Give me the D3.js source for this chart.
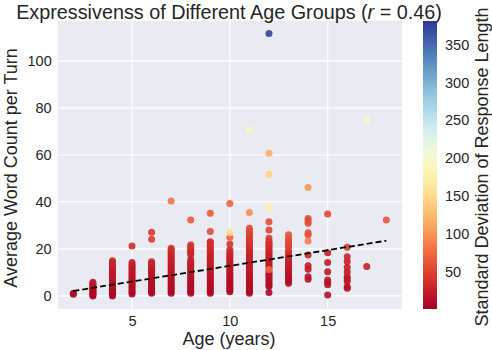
<!DOCTYPE html>
<html>
<head>
<meta charset="utf-8">
<script src="https://cdn.jsdelivr.net/npm/d3@7"></script>
<style>
body { margin: 0; background: #fff; }
text { font-family: "Liberation Sans", Arial, sans-serif; fill: #262626; }
</style>
</head>
<body>
<div id="chart"></div>
<script>
// ages on the x axis, one column of points per age
var ages = [2, 3, 4, 5, 6, 7, 8, 9, 10, 11, 12, 13, 14, 15, 16, 17, 18];

// average word count per turn, per age
var wordCounts = [
  [0.7, 1.1],
  [0.0, 0.5, 1.0, 1.5, 2.0, 2.5, 3.0, 3.5, 4.0, 4.6, 5.2, 5.8],
  [0.0, 0.7, 1.4, 2.1, 2.8, 3.5, 4.2, 5.0, 5.8, 6.6, 7.4, 8.2, 9.0, 9.8, 10.6, 11.5, 12.4, 13.3, 14.2, 15.0],
  [0.8, 1.5, 2.2, 3.0, 3.8, 4.6, 5.4, 6.2, 7.0, 7.8, 8.6, 9.4, 10.2, 11.0, 11.8, 12.6, 13.4, 14.2, 21.3],
  [1.1, 1.8, 2.5, 3.3, 4.1, 4.9, 5.7, 6.5, 7.3, 8.1, 8.9, 9.7, 10.5, 11.3, 12.1, 12.9, 13.7, 14.5, 24.1, 27.1],
  [1.1, 1.9, 2.7, 3.5, 4.3, 5.1, 5.9, 6.7, 7.5, 8.3, 9.1, 9.9, 10.7, 11.5, 12.3, 13.1, 13.9, 14.7, 15.5, 16.3, 17.1, 17.9, 18.7, 19.5, 20.3, 40.4],
  [1.1, 1.9, 2.7, 3.5, 4.3, 5.1, 5.9, 6.7, 7.5, 8.3, 9.1, 9.9, 10.7, 11.5, 12.3, 13.1, 13.9, 14.7, 15.5, 17.6, 18.4, 19.2, 20.0, 20.8, 21.7, 32.3],
  [1.1, 1.9, 2.7, 3.5, 4.3, 5.1, 5.9, 6.7, 7.5, 8.3, 9.1, 9.9, 10.7, 11.5, 12.3, 13.1, 13.9, 14.7, 15.5, 16.3, 17.1, 17.9, 18.7, 19.5, 20.3, 21.1, 21.9, 22.7, 23.1, 27.4, 35.2],
  [1.8, 2.6, 3.4, 4.2, 5.0, 5.8, 6.6, 7.4, 8.2, 9.0, 9.8, 10.6, 11.4, 12.2, 13.0, 13.8, 14.6, 15.4, 16.2, 17.0, 17.8, 18.6, 19.6, 22.1, 25.0, 26.9, 39.4],
  [1.1, 1.9, 2.7, 3.5, 4.3, 5.1, 5.9, 6.7, 7.5, 8.3, 9.1, 9.9, 10.7, 11.5, 12.3, 13.1, 13.9, 14.7, 15.5, 16.3, 17.1, 17.9, 18.7, 19.5, 20.3, 21.1, 21.9, 22.7, 23.5, 24.3, 25.1, 25.9, 26.7, 27.5, 28.8, 35.5, 70.8],
  [1.4, 4.0, 4.8, 5.6, 6.4, 7.2, 8.0, 8.8, 9.6, 10.4, 11.2, 12.0, 12.8, 13.6, 14.4, 15.2, 16.0, 16.8, 17.6, 18.4, 19.2, 20.0, 20.8, 21.6, 22.4, 23.2, 24.5, 28.1, 31.6, 37.6, 51.8, 60.7, 111.8],
  [5.4, 6.2, 7.0, 7.8, 8.6, 9.4, 10.2, 11.0, 11.8, 12.6, 13.4, 14.2, 15.0, 15.8, 16.6, 17.4, 18.2, 19.0, 20.6, 21.4, 22.2, 23.0, 23.8, 24.6, 26.0],
  [7.1, 8.2, 11.3, 12.8, 17.4, 23.4, 26.0, 26.9, 30.9, 32.0, 33.0, 46.2],
  [0.4, 4.7, 5.8, 6.8, 10.3, 14.2, 18.4, 34.9],
  [3.3, 3.9, 6.1, 7.2, 8.2, 10.2, 12.2, 14.6, 16.7, 20.7],
  [12.5, 74.9],
  [32.3]
];

// standard deviation of response length, same layout as wordCounts
var responseSD = [
  [8, 10],
  [4, 5, 6, 7, 8, 9, 10, 11, 12, 14, 16, 18],
  [5, 6, 7, 8, 9, 10, 11, 12, 13, 14, 15, 16, 17, 18, 19, 20, 22, 24, 26, 28],
  [6, 7, 8, 9, 10, 11, 12, 13, 14, 15, 16, 17, 18, 19, 20, 22, 24, 26, 35],
  [6, 7, 8, 9, 10, 11, 12, 13, 14, 15, 16, 17, 18, 19, 21, 23, 25, 27, 45, 42],
  [6, 7, 8, 9, 10, 11, 12, 13, 14, 15, 16, 17, 18, 19, 20, 21, 22, 23, 24, 25, 27, 29, 31, 33, 36, 80],
  [6, 7, 8, 9, 10, 11, 12, 13, 14, 15, 16, 17, 18, 19, 20, 21, 22, 23, 24, 27, 29, 31, 33, 35, 38, 65],
  [6, 7, 8, 9, 10, 11, 12, 13, 14, 15, 16, 17, 18, 19, 20, 21, 22, 23, 24, 25, 26, 27, 28, 30, 31, 32, 33, 34, 36, 55, 65],
  [6, 7, 8, 9, 10, 11, 12, 13, 14, 15, 16, 17, 18, 19, 20, 21, 22, 23, 25, 27, 29, 31, 33, 40, 70, 150, 70],
  [6, 7, 8, 9, 10, 11, 12, 13, 14, 15, 16, 17, 18, 19, 20, 21, 22, 23, 24, 25, 26, 27, 28, 30, 32, 34, 36, 38, 40, 42, 44, 46, 48, 50, 52, 95, 190],
  [6, 8, 9, 10, 11, 12, 13, 14, 15, 16, 75, 18, 19, 20, 21, 22, 23, 24, 25, 26, 28, 30, 32, 34, 36, 38, 42, 50, 55, 175, 145, 115, 375],
  [10, 11, 12, 13, 14, 15, 16, 17, 18, 20, 22, 24, 26, 28, 30, 32, 34, 36, 45, 48, 50, 52, 55, 58, 60],
  [15, 16, 20, 22, 30, 85, 60, 60, 55, 55, 55, 100],
  [12, 15, 16, 17, 20, 22, 26, 52],
  [14, 15, 17, 18, 19, 22, 24, 26, 30, 45],
  [25, 200],
  [62]
];

// fitted trend line end points
var trendAges = [2, 18];
var trendWords = [2.1, 23.5];

var xTicks = [5, 10, 15];
var yTicks = [0, 20, 40, 60, 80, 100];
var cbTicks = [50, 100, 150, 200, 250, 300, 350];

var width = 492, height = 350;
var plot = {left: 57.7, right: 402, top: 20.7, bottom: 309};
var cb = {left: 423, right: 437, top: 21, bottom: 309};

var svg = d3.select("#chart").append("svg")
  .attr("width", width)
  .attr("height", height);

var x = d3.scaleLinear().domain([1.2, 18.8]).range([plot.left, plot.right]);
var y = d3.scaleLinear().domain([-5.58, 117.2]).range([plot.bottom, plot.top]);
var colour = d3.scaleSequential(d3.interpolateRdYlBu).domain([1, 381]);

svg.append("rect")
  .attr("x", plot.left).attr("y", plot.top)
  .attr("width", plot.right - plot.left)
  .attr("height", plot.bottom - plot.top)
  .attr("fill", "#eaeaf2");

// grid
svg.append("g")
  .selectAll("line")
  .data(xTicks)
  .enter().append("line")
  .attr("x1", d => x(d)).attr("x2", d => x(d))
  .attr("y1", plot.top).attr("y2", plot.bottom)
  .attr("stroke", "#fff").attr("stroke-width", 1.2);

svg.append("g")
  .selectAll("line")
  .data(yTicks)
  .enter().append("line")
  .attr("x1", plot.left).attr("x2", plot.right)
  .attr("y1", d => y(d)).attr("y2", d => y(d))
  .attr("stroke", "#fff").attr("stroke-width", 1.2);

// axes (labels only, seaborn style)
var xAxis = svg.append("g")
  .attr("transform", "translate(0," + plot.bottom + ")")
  .call(d3.axisBottom(x).tickValues(xTicks).tickSize(0).tickPadding(7));
var yAxis = svg.append("g")
  .attr("transform", "translate(" + plot.left + ",0)")
  .call(d3.axisLeft(y).tickValues(yTicks).tickSize(0).tickPadding(6));
[xAxis, yAxis].forEach(function (g) {
  g.select(".domain").remove();
  g.selectAll("text").attr("font-size", 14.5).attr("font-family", null).attr("fill", "#262626");
});

// points
var points = [];
ages.forEach(function (a, i) {
  wordCounts[i].forEach(function (w, j) {
    points.push({age: a, words: w, sd: responseSD[i][j]});
  });
});
points.sort((a, b) => a.sd - b.sd);

svg.append("g")
  .selectAll("circle")
  .data(points)
  .enter().append("circle")
  .attr("cx", d => x(d.age))
  .attr("cy", d => y(d.words))
  .attr("r", 3.5)
  .attr("fill", d => colour(d.sd))
  .attr("fill-opacity", 0.9);

// trend line
svg.append("path")
  .datum(trendAges.map((a, i) => [a, trendWords[i]]))
  .attr("d", d3.line().x(d => x(d[0])).y(d => y(d[1])))
  .attr("fill", "none")
  .attr("stroke", "#000")
  .attr("stroke-width", 1.8)
  .attr("stroke-dasharray", "6,3");

// titles
svg.append("text")
  .attr("x", 229)
  .attr("y", 18.5)
  .attr("text-anchor", "middle")
  .attr("font-size", 19.8)
  .html("Expressivenss of Different Age Groups (<tspan font-style='italic'>r</tspan> = 0.46)");

svg.append("text")
  .attr("x", 229)
  .attr("y", 345)
  .attr("text-anchor", "middle")
  .attr("font-size", 18)
  .text("Age (years)");

svg.append("text")
  .attr("transform", "translate(17,168) rotate(-90)")
  .attr("text-anchor", "middle")
  .attr("font-size", 18)
  .text("Average Word Count per Turn");

// colour bar
var cbScale = d3.scaleLinear().domain([1, 381]).range([cb.bottom, cb.top]);
var grad = svg.append("defs").append("linearGradient")
  .attr("id", "cbgrad")
  .attr("x1", 0).attr("y1", 1).attr("x2", 0).attr("y2", 0);
grad.selectAll("stop")
  .data(d3.range(0, 1.0001, 0.02))
  .enter().append("stop")
  .attr("offset", d => d)
  .attr("stop-color", d => d3.interpolateRdYlBu(d));

svg.append("rect")
  .attr("x", cb.left).attr("y", cb.top)
  .attr("width", cb.right - cb.left)
  .attr("height", cb.bottom - cb.top)
  .attr("fill", "url(#cbgrad)");

var cbAxis = svg.append("g")
  .attr("transform", "translate(" + cb.right + ",0)")
  .call(d3.axisRight(cbScale).tickValues(cbTicks).tickSize(0).tickPadding(8));
cbAxis.select(".domain").remove();
cbAxis.selectAll("text").attr("font-size", 14.5).attr("font-family", null).attr("fill", "#262626");

svg.append("text")
  .attr("transform", "translate(488,167) rotate(-90)")
  .attr("text-anchor", "middle")
  .attr("font-size", 18)
  .text("Standard Deviation of Response Length");
</script>
</body>
</html>
